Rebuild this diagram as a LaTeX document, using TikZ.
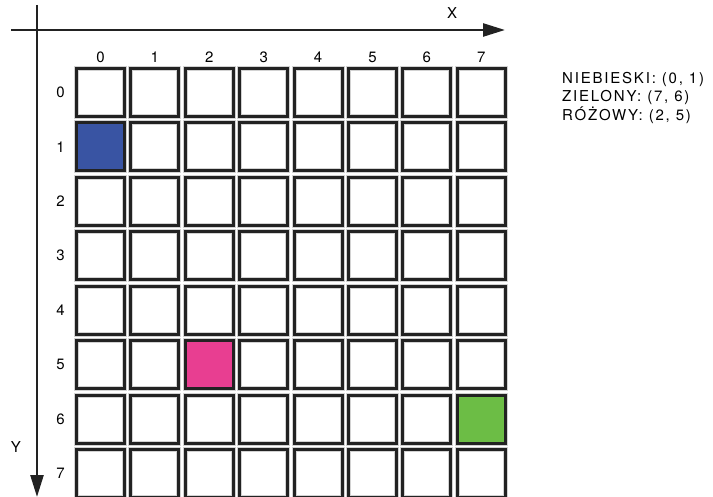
\documentclass[tikz,border=0pt]{standalone}
\usepackage{fontspec}
\setmainfont{TeX Gyre Heros}[LetterSpace=12]
\usetikzlibrary{arrows.meta}
\definecolor{niebieski}{RGB}{57,84,163}
\definecolor{zielony}{RGB}{108,189,69}
\definecolor{rozowy}{RGB}{232,62,145}
\definecolor{ramka}{RGB}{34,34,34}
\tikzset{
  cell/.style={draw=ramka, line width=3pt, minimum size=48pt, inner sep=0pt,
    preaction={draw=gray!35, line width=5pt}},
  axis/.style={draw=ramka, line width=2.5pt, -{Triangle[length=22pt,width=13pt]}},
  lbl/.style={font=\fontsize{15}{18}\selectfont, inner sep=0pt}
}
\begin{document}
\begin{tikzpicture}[x=1pt, y=-1pt]
  \useasboundingbox (0,0) rectangle (713,497);
  \coordinate (xs) at (11,30); \coordinate (xe) at (505,30);
  \coordinate (ys) at (37,5); \coordinate (ye) at (37,497);
  \draw[axis] (xs) -- (xe);
  \draw[axis] (ys) -- (ye);
  \node[lbl] (xl) at (452,13) {X}; \node[lbl] (yl) at (16,447) {Y};
  % grid
  \foreach \i in {0,...,7} {
    \node[lbl] (col-\i) at ({100.5+54.4*\i},57) {\i};
    \node[lbl] (row-\i) at (60.5,{92.2+54.5*\i}) {\i};
    \foreach \j in {0,...,7}
      \node[cell] (c-\i-\j) at ({100.5+54.4*\i},{92.2+54.5*\j}) {};
  }
  \node[cell, fill=niebieski] at (c-0-1) {};
  \node[cell, fill=zielony] at (c-7-6) {};
  \node[cell, fill=rozowy] at (c-2-5) {};
  % legend
  \node[lbl, anchor=base west] (leg-n) at (562,83.5) {NIEBIESKI: (0, 1)};
  \node[lbl, anchor=base west] (leg-z) at (562,102) {ZIELONY: (7, 6)};
  \node[lbl, anchor=base west] (leg-r) at (562,120.5) {RÓŻOWY: (2, 5)};
\end{tikzpicture}
\end{document}
